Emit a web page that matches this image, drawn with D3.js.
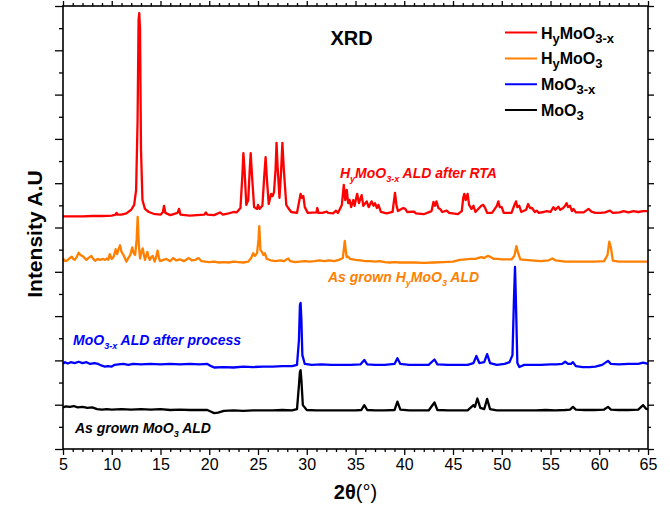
<!DOCTYPE html>
<html>
<head>
<meta charset="utf-8">
<script src="https://cdn.jsdelivr.net/npm/d3@7"></script>
<style>
  body { margin: 0; background: #fff; }
  svg { display: block; }
</style>
</head>
<body>
<svg id="chart" width="670" height="514"></svg>
<script>
// ---- data: XRD scans, [2θ (deg), intensity (a.u., stacked)] ----
const xTickValues = [5, 10, 15, 20, 25, 30, 35, 40, 45, 50, 55, 60, 65];

const seriesNames = ["H_{y}MoO_{3-x}", "H_{y}MoO_{3}", "MoO_{3-x}", "MoO_{3}"];
const seriesColors = ["#ff0000", "#ff8000", "#0000ff", "#000000"];
const curveLabels = [
  "H_{y}MoO_{3-x} ALD after RTA",
  "As grown H_{y}MoO_{3} ALD",
  "MoO_{3-x} ALD after process",
  "As grown MoO_{3} ALD"
];

const traceHyMoO3x = [
  [5.0,5.25],[6.0,5.25],[7.0,5.25],[8.0,5.26],[9.0,5.26],[10.0,5.27],[10.4,5.29],[10.5,5.33],[10.6,5.29],
  [11.0,5.29],[11.5,5.32],[12.0,5.40],[12.3,5.51],[12.5,5.85],[12.65,7.43],[12.75,9.68],[12.82,9.84],
  [12.9,9.46],[13.0,6.75],[13.15,5.62],[13.4,5.42],[13.8,5.35],[14.3,5.31],[15.0,5.29],[15.25,5.35],
  [15.36,5.49],[15.5,5.33],[16.0,5.28],[16.75,5.33],[16.9,5.42],[17.05,5.29],[18.0,5.27],[19.5,5.29],
  [19.65,5.34],[19.8,5.29],[20.5,5.28],[21.1,5.34],[21.4,5.29],[22.0,5.32],[22.5,5.35],[22.8,5.34],
  [23.2,5.44],[23.4,6.19],[23.5,6.68],[23.62,6.30],[23.8,5.51],[24.0,5.62],[24.15,6.30],[24.25,6.68],
  [24.38,6.19],[24.6,5.46],[24.9,5.42],[25.0,5.51],[25.15,5.42],[25.45,5.49],[25.65,6.19],[25.78,6.59],
  [25.92,6.07],[26.1,5.53],[26.35,5.76],[26.5,5.71],[26.64,5.80],[26.8,6.30],[26.9,6.91],[27.0,6.41],
  [27.2,5.67],[27.35,6.19],[27.5,6.91],[27.65,6.30],[27.9,5.51],[28.1,5.44],[28.4,5.35],[29.0,5.33],
  [29.25,5.62],[29.37,5.76],[29.5,5.67],[29.65,5.71],[29.8,5.46],[30.1,5.33],[31.0,5.34],[31.08,5.44],
  [31.2,5.33],[31.6,5.33],[32.04,5.36],[32.2,5.33],[32.7,5.32],[33.0,5.38],[33.2,5.33],[33.6,5.51],
  [33.8,5.96],[33.95,5.62],[34.1,5.85],[34.25,5.55],[34.4,5.62],[34.55,5.46],[34.77,5.62],[34.9,5.49],
  [35.17,5.76],[35.35,5.55],[35.63,5.73],[35.8,5.49],[36.15,5.59],[36.35,5.46],[36.65,5.59],[36.85,5.49],
  [37.0,5.55],[37.2,5.44],[37.35,5.51],[37.6,5.35],[38.2,5.32],[38.8,5.35],[39.05,5.78],[39.2,5.51],
  [39.35,5.37],[39.9,5.44],[40.1,5.42],[40.3,5.35],[41.0,5.36],[41.2,5.32],[42.0,5.30],[42.8,5.37],
  [43.0,5.58],[43.15,5.49],[43.3,5.59],[43.5,5.44],[43.67,5.42],[43.9,5.35],[44.35,5.38],[44.6,5.33],
  [45.5,5.30],[45.9,5.37],[46.05,5.67],[46.16,5.76],[46.3,5.62],[46.5,5.76],[46.65,5.51],[46.9,5.42],
  [47.1,5.49],[47.3,5.35],[47.9,5.49],[48.1,5.51],[48.3,5.44],[48.5,5.33],[49.0,5.33],[49.5,5.49],
  [49.65,5.59],[49.8,5.46],[50.0,5.46],[50.2,5.33],[51.0,5.33],[51.3,5.51],[51.46,5.59],[51.6,5.46],
  [51.8,5.49],[52.0,5.35],[52.5,5.40],[52.7,5.53],[52.9,5.44],[53.1,5.44],[53.4,5.35],[53.6,5.38],
  [53.8,5.33],[54.3,5.35],[54.6,5.37],[55.0,5.35],[55.3,5.46],[55.5,5.40],[55.8,5.47],[56.0,5.40],
  [56.3,5.44],[56.5,5.49],[56.65,5.55],[56.8,5.46],[57.0,5.49],[57.2,5.37],[57.35,5.42],[57.6,5.34],
  [58.4,5.34],[58.9,5.42],[59.2,5.36],[59.6,5.33],[60.1,5.33],[60.6,5.34],[61.1,5.38],[61.4,5.33],
  [62.1,5.34],[62.5,5.37],[63.0,5.34],[63.5,5.37],[64.0,5.35],[64.5,5.37],[65.0,5.37]
];

const traceHyMoO3 = [
  [5.0,4.30],[5.2,4.24],[5.4,4.25],[5.7,4.31],[5.9,4.34],[6.05,4.29],[6.2,4.27],[6.4,4.33],[6.6,4.43],
  [6.8,4.38],[7.1,4.34],[7.3,4.29],[7.4,4.27],[7.6,4.31],[7.9,4.36],[8.1,4.29],[8.3,4.25],[8.55,4.29],
  [8.8,4.27],[9.1,4.29],[9.3,4.27],[9.5,4.30],[9.65,4.27],[9.8,4.40],[10.0,4.29],[10.2,4.34],[10.4,4.51],
  [10.55,4.40],[10.7,4.51],[10.85,4.60],[11.0,4.45],[11.2,4.38],[11.5,4.23],[11.7,4.31],[11.9,4.38],
  [12.1,4.55],[12.25,4.42],[12.4,4.38],[12.55,4.72],[12.66,5.24],[12.78,4.60],[12.9,4.30],[13.05,4.45],
  [13.17,4.53],[13.3,4.38],[13.4,4.27],[13.55,4.38],[13.65,4.45],[13.8,4.31],[13.9,4.27],[14.05,4.33],
  [14.2,4.36],[14.4,4.23],[14.55,4.33],[14.7,4.48],[14.85,4.31],[14.95,4.24],[15.3,4.27],[15.6,4.29],
  [16.0,4.24],[16.3,4.31],[16.6,4.26],[17.0,4.28],[17.4,4.24],[17.9,4.31],[18.2,4.26],[18.6,4.27],
  [18.9,4.31],[19.2,4.24],[19.6,4.23],[20.0,4.22],[20.5,4.23],[21.0,4.21],[21.5,4.22],[22.0,4.21],
  [22.5,4.23],[23.0,4.22],[23.5,4.21],[24.0,4.23],[24.3,4.31],[24.5,4.42],[24.7,4.36],[24.9,4.42],
  [25.05,4.72],[25.13,5.03],[25.25,4.49],[25.4,4.45],[25.55,4.38],[25.7,4.42],[25.9,4.29],[26.3,4.26],
  [26.8,4.24],[27.3,4.26],[27.7,4.24],[28.0,4.29],[28.1,4.30],[28.3,4.24],[28.8,4.22],[29.3,4.23],
  [29.8,4.24],[30.3,4.23],[30.8,4.24],[31.3,4.26],[31.8,4.24],[32.3,4.26],[32.8,4.24],[33.3,4.27],
  [33.7,4.31],[33.82,4.54],[33.9,4.70],[34.0,4.49],[34.1,4.33],[34.26,4.34],[34.45,4.29],[35.0,4.27],
  [35.5,4.26],[36.0,4.24],[36.5,4.24],[37.0,4.23],[37.5,4.24],[38.0,4.22],[38.5,4.21],[39.0,4.22],
  [39.5,4.21],[40.0,4.21],[41.0,4.21],[42.0,4.20],[43.0,4.21],[44.0,4.22],[45.0,4.23],[45.7,4.27],
  [46.3,4.28],[46.8,4.29],[47.3,4.29],[47.9,4.33],[48.2,4.31],[48.6,4.36],[48.9,4.33],[49.2,4.29],
  [49.6,4.29],[50.0,4.28],[50.5,4.28],[51.0,4.28],[51.3,4.36],[51.5,4.58],[51.65,4.45],[51.9,4.28],
  [52.4,4.27],[53.0,4.26],[54.0,4.24],[54.8,4.26],[55.2,4.30],[55.5,4.26],[56.5,4.23],[57.5,4.23],
  [58.5,4.23],[59.5,4.23],[60.5,4.24],[60.85,4.38],[61.03,4.68],[61.2,4.54],[61.4,4.25],[62.0,4.23],
  [63.0,4.23],[64.0,4.23],[65.0,4.23]
];

const traceMoO3x = [
  [5.0,1.92],[5.2,1.96],[5.5,1.93],[5.8,1.96],[6.2,1.94],[6.6,1.97],[7.0,1.94],[7.4,1.96],[7.8,1.92],
  [8.2,1.94],[8.6,1.92],[9.0,1.88],[9.3,1.86],[9.6,1.87],[10.0,1.86],[10.3,1.90],[10.7,1.91],[11.2,1.92],
  [11.7,1.90],[12.2,1.92],[13.0,1.91],[14.0,1.92],[15.0,1.91],[16.0,1.92],[17.0,1.91],[18.0,1.92],
  [19.0,1.91],[19.8,1.92],[20.2,1.87],[20.5,1.84],[21.5,1.85],[22.5,1.84],[23.5,1.86],[24.5,1.85],
  [25.5,1.86],[26.5,1.86],[27.5,1.87],[28.5,1.87],[29.0,1.90],[29.2,2.46],[29.3,3.25],[29.37,3.30],
  [29.45,2.91],[29.55,2.12],[29.8,1.92],[30.5,1.90],[31.5,1.91],[32.5,1.90],[33.5,1.90],[34.5,1.90],
  [35.5,1.91],[35.9,2.01],[36.2,1.91],[37.0,1.90],[38.0,1.90],[39.0,1.92],[39.3,2.05],[39.6,1.92],
  [40.5,1.90],[41.5,1.90],[42.5,1.90],[43.1,2.02],[43.4,1.91],[44.5,1.90],[45.5,1.90],[46.5,1.90],
  [47.1,1.94],[47.4,2.10],[47.7,1.94],[48.2,1.96],[48.5,2.14],[48.8,1.94],[49.5,1.90],[50.3,1.92],
  [50.8,1.96],[51.1,2.12],[51.25,3.36],[51.36,4.11],[51.45,3.36],[51.6,1.94],[51.8,1.85],[52.3,1.90],
  [53.0,1.90],[54.0,1.90],[55.0,1.91],[55.6,1.91],[56.2,1.92],[56.5,1.97],[56.8,1.92],[57.1,1.92],
  [57.3,1.96],[57.6,1.87],[58.3,1.85],[59.0,1.85],[59.6,1.86],[60.3,1.90],[60.9,1.99],[61.2,1.92],
  [62.0,1.91],[63.0,1.92],[64.0,1.92],[64.5,1.95],[65.0,1.92]
];

const traceMoO3 = [
  [5.0,0.94],[5.3,0.96],[5.7,0.95],[6.1,0.97],[6.5,0.94],[7.0,0.95],[7.5,0.93],[8.0,0.94],[8.5,0.90],
  [9.0,0.89],[9.5,0.90],[10.0,0.89],[11.0,0.90],[12.0,0.89],[13.0,0.90],[14.0,0.89],[15.0,0.90],
  [16.0,0.88],[17.0,0.89],[18.0,0.88],[19.0,0.88],[19.8,0.88],[20.2,0.84],[20.5,0.81],[20.9,0.82],
  [21.5,0.86],[22.5,0.87],[23.5,0.86],[24.5,0.87],[25.5,0.87],[26.5,0.87],[27.5,0.88],[28.5,0.87],
  [29.0,0.90],[29.2,1.44],[29.3,1.74],[29.37,1.78],[29.45,1.56],[29.6,0.99],[30.0,0.88],[31.0,0.87],
  [32.0,0.87],[33.0,0.87],[34.0,0.87],[35.0,0.87],[35.6,0.88],[35.9,0.99],[36.2,0.88],[37.0,0.87],
  [38.0,0.87],[39.0,0.88],[39.3,1.07],[39.6,0.89],[40.5,0.87],[41.5,0.87],[42.5,0.87],[43.1,1.05],
  [43.4,0.88],[44.5,0.87],[45.5,0.87],[46.5,0.87],[47.1,0.99],[47.25,0.95],[47.5,1.14],[47.8,0.93],
  [48.2,0.90],[48.5,1.13],[48.8,0.90],[49.5,0.87],[50.5,0.87],[51.5,0.87],[52.5,0.87],[53.5,0.87],
  [54.5,0.88],[55.5,0.87],[56.5,0.88],[57.0,0.89],[57.3,0.95],[57.6,0.89],[58.5,0.88],[59.5,0.88],
  [60.5,0.89],[60.9,0.95],[61.2,0.89],[62.0,0.88],[63.0,0.88],[64.0,0.89],[64.5,0.99],[64.8,0.91],
  [65.0,0.89]
];

const traces = [traceHyMoO3x, traceHyMoO3, traceMoO3x, traceMoO3];

// ---- layout ----
const W = 670, H = 514;
const margin = { top: 6, right: 22, bottom: 65, left: 63 };
const innerW = W - margin.left - margin.right;
const innerH = H - margin.top - margin.bottom;
const FONT = "'Liberation Sans', Arial, Helvetica, sans-serif";

const svg = d3.select("#chart").style("font-family", FONT);
const g = svg.append("g").attr("transform", `translate(${margin.left},${margin.top})`);

const x = d3.scaleLinear().domain([5, 65]).range([0, innerW]);
const y = d3.scaleLinear().domain([0, 10]).range([innerH, 0]);

// writes "A_{b}C" style markup as tspans with subscripts
function richText(sel, markup, size, subSize, shift) {
  const parts = [];
  const re = /_\{([^}]*)\}|([^_]+)/g;
  let m;
  while ((m = re.exec(markup)) !== null) {
    if (m[1] !== undefined) parts.push({ t: m[1], sub: true });
    else parts.push({ t: m[2], sub: false });
  }
  let lowered = false;
  parts.forEach(p => {
    const ts = sel.append("tspan").text(p.t);
    if (p.sub) {
      ts.attr("font-size", subSize);
      if (!lowered) { ts.attr("dy", shift); lowered = true; }
    } else {
      ts.attr("font-size", size);
      if (lowered) { ts.attr("dy", -shift); lowered = false; }
    }
  });
}

// ---- traces ----
const line = d3.line().x(d => x(d[0])).y(d => y(d[1]));
const drawOrder = [3, 2, 0, 1];
drawOrder.forEach(i => {
  g.append("path")
    .datum(traces[i])
    .attr("fill", "none")
    .attr("stroke", seriesColors[i])
    .attr("stroke-width", 2.3)
    .attr("stroke-linejoin", "round")
    .attr("d", line);
});

// ---- axes (ticks outward on all four sides) ----
const minorX = d3.range(5, 66, 1).filter(v => v % 5 !== 0);
const majorY = d3.range(0, 10.01, 1);
const minorY = d3.range(0.5, 10, 1);

function styleAxis(a) {
  a.select(".domain").remove();
  a.selectAll(".tick line").attr("stroke", "#000").attr("stroke-width", 1.3);
}

g.append("g").attr("transform", `translate(0,${innerH})`)
  .call(d3.axisBottom(x).tickValues(xTickValues).tickSize(6).tickPadding(4).tickFormat(d3.format("d")))
  .call(styleAxis)
  .call(a => a.selectAll("text").attr("font-size", 16).attr("font-family", FONT).attr("fill", "#000"));
g.append("g").attr("transform", `translate(0,${innerH})`)
  .call(d3.axisBottom(x).tickValues(minorX).tickSize(3).tickFormat(""))
  .call(styleAxis);
g.append("g")
  .call(d3.axisTop(x).tickValues(xTickValues).tickSize(5).tickFormat(""))
  .call(styleAxis);
g.append("g")
  .call(d3.axisTop(x).tickValues(minorX).tickSize(3).tickFormat(""))
  .call(styleAxis);
g.append("g")
  .call(d3.axisLeft(y).tickValues(majorY).tickSize(8).tickFormat(""))
  .call(styleAxis);
g.append("g")
  .call(d3.axisLeft(y).tickValues(minorY).tickSize(4).tickFormat(""))
  .call(styleAxis);
g.append("g").attr("transform", `translate(${innerW},0)`)
  .call(d3.axisRight(y).tickValues(majorY).tickSize(6).tickFormat(""))
  .call(styleAxis);
g.append("g").attr("transform", `translate(${innerW},0)`)
  .call(d3.axisRight(y).tickValues(minorY).tickSize(3).tickFormat(""))
  .call(styleAxis);

g.append("rect")
  .attr("x", 0).attr("y", 0).attr("width", innerW).attr("height", innerH)
  .attr("fill", "none").attr("stroke", "#000").attr("stroke-width", 1.6);

// ---- axis titles ----
const xt = svg.append("text")
  .attr("x", margin.left + innerW / 2).attr("y", 499)
  .attr("text-anchor", "middle").attr("font-size", 20).attr("fill", "#000");
xt.append("tspan").attr("font-weight", "bold").text("2θ");
xt.append("tspan").text("(°)");

svg.append("text")
  .attr("transform", `translate(42,${margin.top + 228}) rotate(-90)`)
  .attr("text-anchor", "middle").attr("font-size", 21).attr("font-weight", "bold")
  .attr("fill", "#000").text("Intensity A.U");

// ---- title ----
g.append("text")
  .attr("x", x(34.6)).attr("y", y(9.13))
  .attr("text-anchor", "middle").attr("font-size", 20).attr("font-weight", "bold")
  .attr("fill", "#000").text("XRD");

// ---- curve annotations ----
const labelAnchors = [[33.4, 6.12], [32.18, 3.77], [6.03, 2.35], [6.23, 0.36]];
curveLabels.forEach((txt, i) => {
  const t = g.append("text")
    .attr("x", x(labelAnchors[i][0])).attr("y", y(labelAnchors[i][1]))
    .attr("font-weight", "bold").attr("font-style", "italic")
    .attr("fill", seriesColors[i]);
  richText(t, txt, 14, 9, 4);
});

// ---- legend ----
const legend = g.append("g").attr("transform", `translate(${x(50.33)},${y(9.40)})`);
seriesNames.forEach((name, i) => {
  const row = legend.append("g").attr("transform", `translate(0,${i * 25.8})`);
  row.append("line").attr("x1", 0).attr("x2", 32).attr("y1", 0).attr("y2", 0)
    .attr("stroke", seriesColors[i]).attr("stroke-width", 2);
  const t = row.append("text").attr("x", 36).attr("y", 6)
    .attr("font-weight", "bold").attr("fill", "#000");
  richText(t, name, 16, 13, 4);
});
</script>
</body>
</html>
